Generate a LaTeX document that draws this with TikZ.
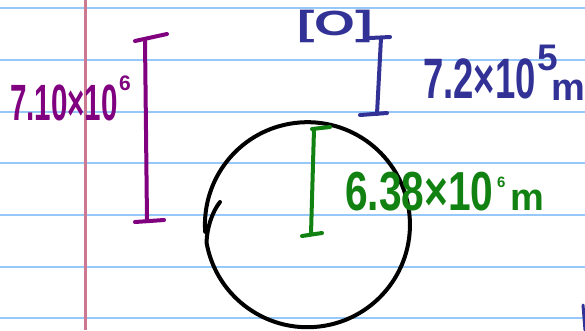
\documentclass[tikz,border=0pt]{standalone}
\usepackage{fontspec}
\setmainfont{Liberation Sans}
\definecolor{penpurple}{RGB}{128,0,128}
\definecolor{penblue}{RGB}{50,50,150}
\definecolor{pengreen}{RGB}{17,130,17}
\definecolor{ruleblue}{RGB}{150,200,250}
\definecolor{marginpink}{RGB}{205,120,145}
\begin{document}
\begin{tikzpicture}[x=1pt, y=-1pt,
  paperline/.style={ruleblue, line width=2pt},
  pen/.style={line width=4pt, line cap=round, line join=round},
  ink/.style={inner sep=0pt, anchor=base west}]

\useasboundingbox [fill=white] (0,0) rectangle (585,330);

%PAPER
\draw [paperline] (0,8.3)--(585,8.3);
\draw [paperline] (0,60)--(585,60);
\draw [paperline] (0,111.7)--(585,111.7);
\draw [paperline] (0,163.3)--(585,163.3);
\draw [paperline] (0,215)--(585,215);
\draw [paperline] (0,266.7)--(585,266.7);
\draw [paperline] (0,318.3)--(585,318.3);
\draw [marginpink, line width=2.5pt] (85.5,0)--(85.5,330);

%EARTH
\draw [pen, black] (220,202) .. controls (212,212) and (207,228) .. (206.5,242.5)
  arc [start angle=170, end angle=-184, radius=102.5];

%PURPLE BAR
\draw [pen, penpurple] (135,41)--(167,34);
\draw [pen, penpurple] (145,40)--(147,221);
\draw [pen, penpurple] (135,222)--(164,220);

%BLUE BAR
\draw [pen, penblue] (370,38)--(390,37);
\draw [pen, penblue] (381,38)--(377,114);
\draw [pen, penblue] (360,115)--(387,113);
\draw [penblue, line width=3pt, line cap=round] (583,305)--(585,330);

%GREEN BAR
\draw [pen, pengreen] (312,129)--(330,127);
\draw [pen, pengreen] (314,129)--(311,234);
\draw [pen, pengreen] (302,236)--(322,233);

\node [ink, penpurple, xscale=0.58, font=\fontsize{51}{51}\selectfont\bfseries] (orbit) at (10,120) {7.10×10};
\node [ink, penpurple, font=\fontsize{21}{21}\selectfont\bfseries] (orbitexp) at (119,90) {6};

\node [ink, penblue, xscale=1.5, font=\fontsize{35}{35}\selectfont\bfseries] (oxygen) at (297,35) {[O]};
\node [ink, penblue, xscale=0.64, font=\fontsize{57}{57}\selectfont\bfseries] (height) at (423,98) {7.2×10};
\node [ink, penblue, font=\fontsize{37}{37}\selectfont\bfseries] (heightexp) at (537,70) {5};
\node [ink, penblue, font=\fontsize{38}{38}\selectfont\bfseries] (heightunit) at (551,100) {m};

\node [ink, pengreen, xscale=0.74, font=\fontsize{55}{55}\selectfont\bfseries] (radius) at (345,210) {6.38×10};
\node [ink, pengreen, font=\fontsize{15}{15}\selectfont\bfseries] (radiusexp) at (497,187) {6};
\node [ink, pengreen, font=\fontsize{38}{38}\selectfont\bfseries] (radiusunit) at (510,210) {m};

\end{tikzpicture}
\end{document}
